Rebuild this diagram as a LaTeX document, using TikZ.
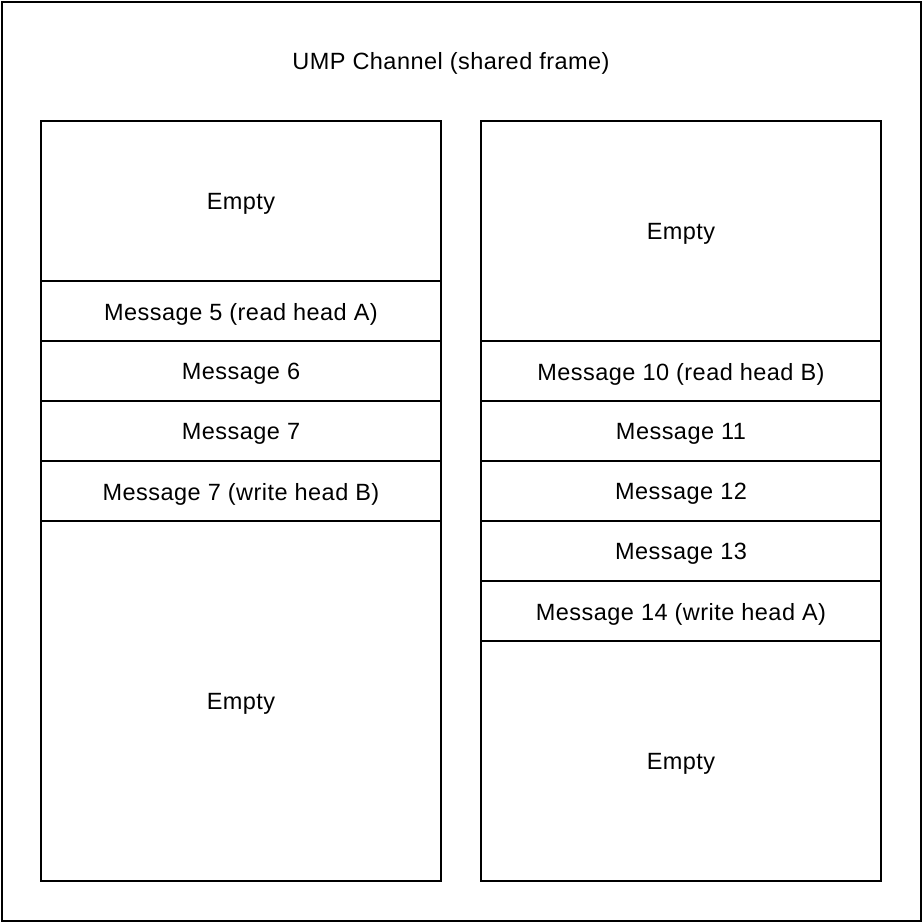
\documentclass[tikz,border=0pt]{standalone}
\usepackage{fontspec}
\setmainfont[LetterSpace=2]{Liberation Sans}
\newcommand{\dn}[1]{\raisebox{-3pt}[\height][\depth]{#1}}
\begin{document}
\begin{tikzpicture}[x=1pt,y=-1pt,
  cell/.style={draw=black,line width=2pt,minimum width=400pt,inner sep=0pt,outer sep=0pt,anchor=north west,font=\fontsize{23.5}{27}\selectfont},
  lbl/.style={font=\fontsize{23.5}{27}\selectfont,inner sep=0pt}]
\useasboundingbox (0,0) rectangle (922,922);
\node[draw=black,line width=2pt,minimum width=919pt,minimum height=919pt,inner sep=0pt,anchor=north west] (frame) at (1,1) {};
\node[lbl] (title) at (451,63.5) {UMP Channel (shared frame)};
% left column
\node[cell,minimum height=160pt] (l1) at (41,121) {\dn{Empty}};
\node[cell,minimum height=60pt] (l2) at (41,281) {\dn{Message 5 (read head A)}};
\node[cell,minimum height=60pt] (l3) at (41,341) {\dn{Message 6}};
\node[cell,minimum height=60pt] (l4) at (41,401) {\dn{Message 7}};
\node[cell,minimum height=60pt] (l5) at (41,461) {\dn{Message 7 (write head B)}};
\node[cell,minimum height=360pt] (l6) at (41,521) {\dn{Empty}};
% right column
\node[cell,minimum height=220pt] (r1) at (481,121) {\dn{Empty}};
\node[cell,minimum height=60pt] (r2) at (481,341) {\dn{Message 10 (read head B)}};
\node[cell,minimum height=60pt] (r3) at (481,401) {\dn{Message 11}};
\node[cell,minimum height=60pt] (r4) at (481,461) {\dn{Message 12}};
\node[cell,minimum height=60pt] (r5) at (481,521) {\dn{Message 13}};
\node[cell,minimum height=60pt] (r6) at (481,581) {\dn{Message 14 (write head A)}};
\node[cell,minimum height=240pt] (r7) at (481,641) {\dn{Empty}};
\end{tikzpicture}
\end{document}
